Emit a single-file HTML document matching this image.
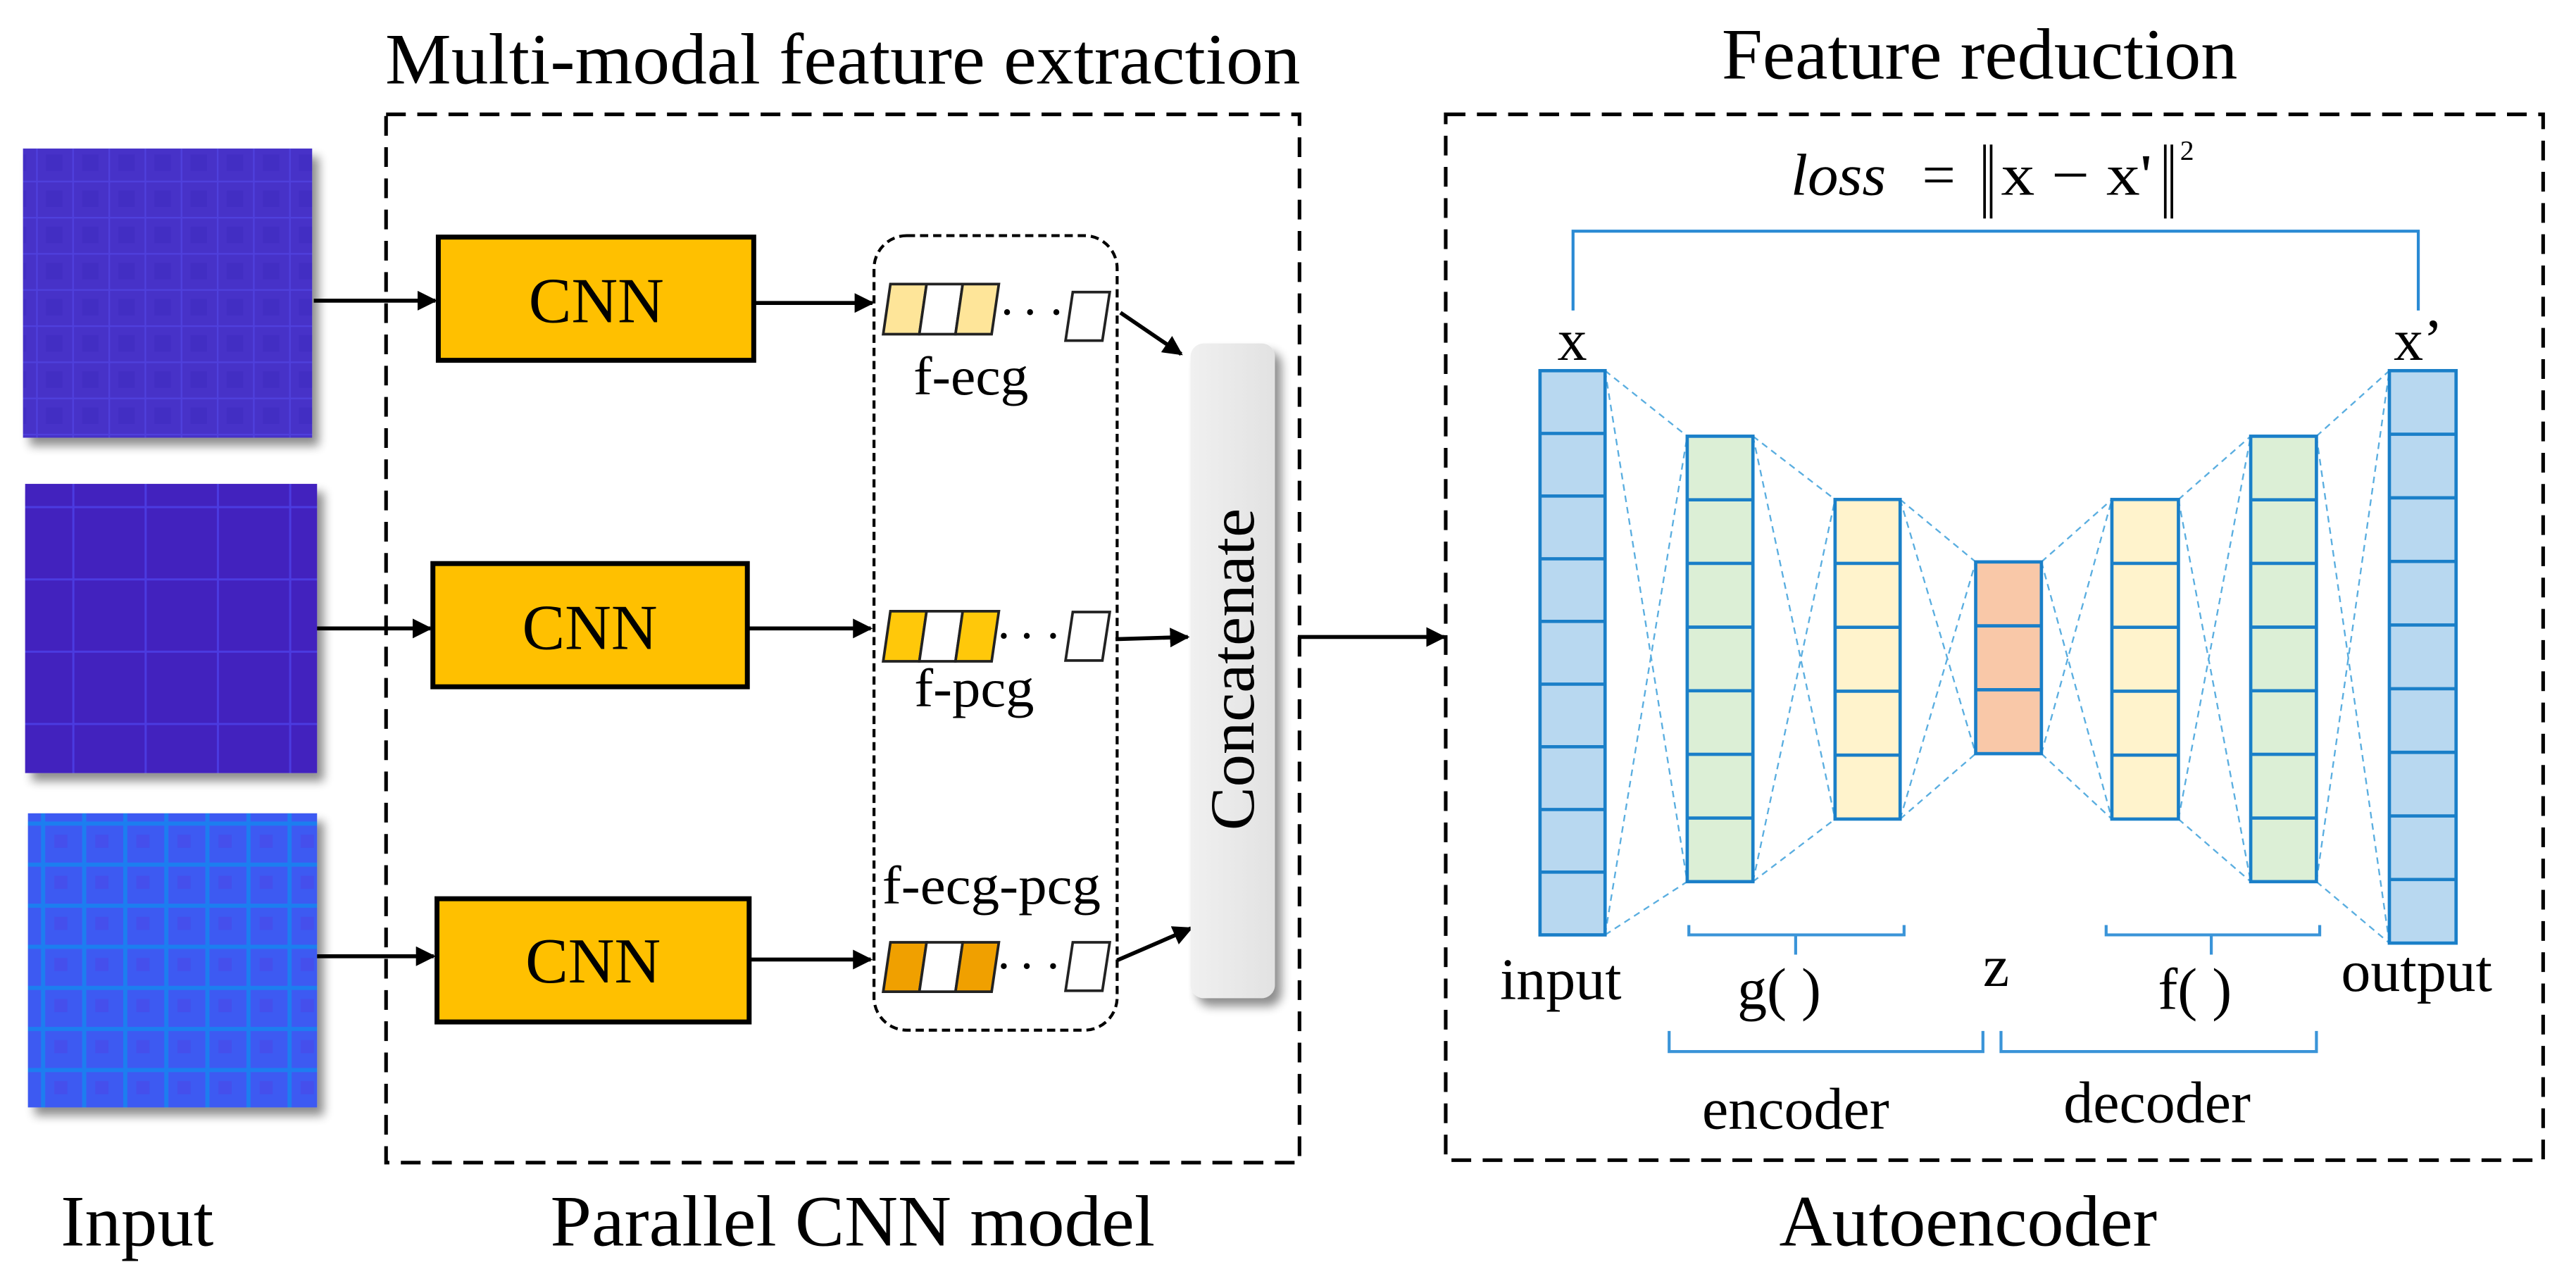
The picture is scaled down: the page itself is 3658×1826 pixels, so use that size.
<!DOCTYPE html>
<html><head><meta charset="utf-8"><style>
html,body{margin:0;padding:0;background:#fff;}
svg{display:block;}
text{font-family:"Liberation Serif",serif;fill:#000;}
</style></head><body>
<svg width="3658" height="1826" viewBox="0 0 1568 782.7" preserveAspectRatio="none" xmlns="http://www.w3.org/2000/svg">
<defs>
<marker id="ah" viewBox="0 0 10 10" refX="9" refY="5" markerWidth="5" markerHeight="5" markerUnits="strokeWidth" orient="auto"><path d="M0,0 L10,5 L0,10 z" fill="#000"/></marker>
<filter id="sh" x="-10%" y="-10%" width="130%" height="130%"><feGaussianBlur in="SourceAlpha" stdDeviation="3"/><feOffset dx="4" dy="5"/><feComponentTransfer><feFuncA type="linear" slope="0.45"/></feComponentTransfer><feMerge><feMergeNode/><feMergeNode in="SourceGraphic"/></feMerge></filter>
<pattern id="p1" width="22" height="22" patternUnits="userSpaceOnUse"><rect width="22" height="22" fill="#4630c8"/><rect x="0" y="0" width="22" height="1" fill="#5040dc"/><rect x="0" y="0" width="1" height="22" fill="#5040dc"/><rect x="6" y="6" width="10" height="10" fill="#3e28bc" opacity="0.4"/></pattern>
<pattern id="p2" width="44" height="44" patternUnits="userSpaceOnUse"><rect width="44" height="44" fill="#4220be"/><rect x="0" y="0" width="44" height="1.3" fill="#4c3ae0"/><rect x="0" y="0" width="1.3" height="44" fill="#4c3ae0"/></pattern>
<pattern id="p3" width="25" height="25" patternUnits="userSpaceOnUse"><rect width="25" height="25" fill="#3c5af2"/><rect x="0" y="0" width="25" height="2.5" fill="#1e7ef0"/><rect x="0" y="0" width="2.5" height="25" fill="#1e7ef0"/><rect x="8" y="8" width="8" height="8" fill="#4a48e8" opacity="0.6"/></pattern>
<linearGradient id="cg" x1="0" x2="1"><stop offset="0" stop-color="#f0f0f0"/><stop offset="1" stop-color="#e2e2e2"/></linearGradient>
</defs>

<text x="513" y="50.7" font-size="44" text-anchor="middle" textLength="557" lengthAdjust="spacingAndGlyphs">Multi-modal feature extraction</text>
<text x="1205" y="47.9" font-size="44" text-anchor="middle" textLength="314" lengthAdjust="spacingAndGlyphs">Feature reduction</text>
<text x="83.5" y="758" font-size="44" text-anchor="middle" textLength="93" lengthAdjust="spacingAndGlyphs">Input</text>
<text x="519" y="758" font-size="44" text-anchor="middle" textLength="368" lengthAdjust="spacingAndGlyphs">Parallel CNN model</text>
<text x="1198" y="758" font-size="44" text-anchor="middle" textLength="230" lengthAdjust="spacingAndGlyphs">Autoencoder</text>

<rect x="235" y="69.6" width="556" height="638" fill="none" stroke="#000" stroke-width="2.2" stroke-dasharray="12,7"/>
<rect x="880" y="69.6" width="668" height="636.5" fill="none" stroke="#000" stroke-width="2.2" stroke-dasharray="12,7"/>

<rect x="14" y="90.4" width="176" height="176" fill="url(#p1)" filter="url(#sh)"/>
<rect x="15.3" y="294.5" width="177.7" height="176" fill="url(#p2)" filter="url(#sh)"/>
<rect x="17" y="495" width="176" height="179" fill="url(#p3)" filter="url(#sh)"/>

<g stroke="#000" stroke-width="3" fill="#ffc000">
<rect x="266.8" y="144.3" width="192" height="75"/>
<rect x="263.5" y="343" width="191.4" height="75"/>
<rect x="266" y="547" width="190" height="75"/>
</g>
<g font-size="39" text-anchor="middle">
<text x="363" y="196">CNN</text>
<text x="359" y="395">CNN</text>
<text x="361" y="598">CNN</text>
</g>

<g stroke="#000" stroke-width="2.4" fill="none" marker-end="url(#ah)">
<line x1="191" y1="183" x2="265" y2="183"/>
<line x1="193" y1="382.5" x2="262" y2="382.5"/>
<line x1="193" y1="582" x2="264" y2="582"/>
<line x1="459" y1="184.4" x2="531" y2="184.4"/>
<line x1="455" y1="382.5" x2="530" y2="382.5"/>
<line x1="456" y1="584" x2="530" y2="584"/>
<line x1="682" y1="190.3" x2="719" y2="215.5"/>
<line x1="679" y1="389" x2="723" y2="387.7"/>
<line x1="680" y1="584.5" x2="725" y2="565"/>
<line x1="790" y1="387.7" x2="879" y2="387.7"/>
</g>

<rect x="532" y="143.4" width="148" height="483.6" rx="20" fill="none" stroke="#000" stroke-width="1.8" stroke-dasharray="5,3"/>

<g stroke="#222" stroke-width="1.6">
<path d="M542,172.9 L564,172.9 L559.6,203.4 L537.6,203.4 Z" fill="#fee599"/>
<path d="M564,172.9 L586,172.9 L581.6,203.4 L559.6,203.4 Z" fill="#fff"/>
<path d="M586,172.9 L608,172.9 L603.6,203.4 L581.6,203.4 Z" fill="#fee599"/>
<path d="M653,177.8 L675.5,177.8 L671,207.3 L648.6,207.3 Z" fill="#fff"/>
<path d="M542,372 L564,372 L559.6,402.5 L537.6,402.5 Z" fill="#ffc80a"/>
<path d="M564,372 L586,372 L581.6,402.5 L559.6,402.5 Z" fill="#fff"/>
<path d="M586,372 L608,372 L603.6,402.5 L581.6,402.5 Z" fill="#ffc80a"/>
<path d="M653,372.5 L675.5,372.5 L671,402 L648.6,402 Z" fill="#fff"/>
<path d="M542,573.5 L564,573.5 L559.6,603.6 L537.6,603.6 Z" fill="#f0a000"/>
<path d="M564,573.5 L586,573.5 L581.6,603.6 L559.6,603.6 Z" fill="#fff"/>
<path d="M586,573.5 L608,573.5 L603.6,603.6 L581.6,603.6 Z" fill="#f0a000"/>
<path d="M653,573.5 L675.5,573.5 L671,603 L648.6,603 Z" fill="#fff"/>
</g>
<g fill="#000">
<circle cx="613" cy="190" r="1.8"/><circle cx="627" cy="190" r="1.8"/><circle cx="643" cy="190" r="1.8"/>
<circle cx="611" cy="387" r="1.8"/><circle cx="625" cy="387" r="1.8"/><circle cx="641" cy="387" r="1.8"/>
<circle cx="611" cy="588" r="1.8"/><circle cx="625" cy="588" r="1.8"/><circle cx="641" cy="588" r="1.8"/>
</g>
<g font-size="33" text-anchor="middle">
<text x="591" y="240" textLength="70" lengthAdjust="spacingAndGlyphs">f-ecg</text>
<text x="593" y="430" textLength="73" lengthAdjust="spacingAndGlyphs">f-pcg</text>
<text x="603.5" y="550" textLength="133" lengthAdjust="spacingAndGlyphs">f-ecg-pcg</text>
</g>

<rect x="724.7" y="209" width="51.3" height="398.5" rx="8" fill="url(#cg)" filter="url(#sh)"/>
<text transform="translate(763,407.4) rotate(-90)" font-size="38" text-anchor="middle" textLength="196" lengthAdjust="spacingAndGlyphs">Concatenate</text>

<text x="1090" y="118.6" font-size="36" font-style="italic" textLength="58" lengthAdjust="spacingAndGlyphs">loss</text>
<text x="1170" y="118.6" font-size="36">=</text>
<g stroke="#000" stroke-width="1.6">
<line x1="1208" y1="88" x2="1208" y2="133"/><line x1="1212" y1="88" x2="1212" y2="133"/>
<line x1="1318" y1="88" x2="1318" y2="133"/><line x1="1322" y1="88" x2="1322" y2="133"/>
</g>
<text x="1218" y="118.6" font-size="36" textLength="92" lengthAdjust="spacingAndGlyphs">x − x'</text>
<text x="1327" y="97" font-size="17">2</text>
<path d="M957.5,189 L957.5,140.7 L1472,140.7 L1472,189" fill="none" stroke="#2a8ad4" stroke-width="1.8"/>
<text x="957" y="219" font-size="36" text-anchor="middle">x</text>
<text x="1472" y="219" font-size="36" text-anchor="middle">x’</text>

<g stroke="#5aaee0" stroke-width="1" stroke-dasharray="4,3" fill="none">
<path d="M977,225.6 L1027,265.5 M977,569 L1027,536.6 M977,225.6 L1027,536.6 M977,569 L1027,265.5"/>
<path d="M1067,265.5 L1117,304 M1067,536.6 L1117,498.5 M1067,265.5 L1117,498.5 M1067,536.6 L1117,304"/>
<path d="M1156.6,304 L1202.6,342 M1156.6,498.5 L1202.6,458.7 M1156.6,304 L1202.6,458.7 M1156.6,498.5 L1202.6,342"/>
<path d="M1242.6,342 L1285.5,304 M1242.6,458.7 L1285.5,498.5 M1242.6,342 L1285.5,498.5 M1242.6,458.7 L1285.5,304"/>
<path d="M1326,304 L1370,265.5 M1326,498.5 L1370,536.6 M1326,304 L1370,536.6 M1326,498.5 L1370,265.5"/>
<path d="M1410,265.5 L1454.4,225.6 M1410,536.6 L1454.4,574 M1410,265.5 L1454.4,574 M1410,536.6 L1454.4,225.6"/>
</g>

<g stroke="#1a7fc8" stroke-width="2">
<rect x="937.4" y="225.6" width="39.6" height="343.4" fill="#b8d8f0"/>
<path d="M937.4,263.8H977M937.4,301.9H977M937.4,340.1H977M937.4,378.2H977M937.4,416.4H977M937.4,454.5H977M937.4,492.7H977M937.4,530.8H977"/>
<rect x="1454.4" y="225.6" width="40.6" height="348.4" fill="#b8d8f0"/>
<path d="M1454.4,264.3H1495M1454.4,303.0H1495M1454.4,341.7H1495M1454.4,380.4H1495M1454.4,419.2H1495M1454.4,457.9H1495M1454.4,496.6H1495M1454.4,535.3H1495"/>
<rect x="1027" y="265.5" width="40" height="271.1" fill="#dcefd6"/>
<path d="M1027,304.2H1067M1027,342.9H1067M1027,381.7H1067M1027,420.4H1067M1027,459.1H1067M1027,497.9H1067"/>
<rect x="1370" y="265.5" width="40" height="271.1" fill="#dcefd6"/>
<path d="M1370,304.2H1410M1370,342.9H1410M1370,381.7H1410M1370,420.4H1410M1370,459.1H1410M1370,497.9H1410"/>
<rect x="1117" y="304" width="39.6" height="194.5" fill="#fff3cc"/>
<path d="M1117,342.9H1156.6M1117,381.8H1156.6M1117,420.7H1156.6M1117,459.6H1156.6"/>
<rect x="1285.5" y="304" width="40.5" height="194.5" fill="#fff3cc"/>
<path d="M1285.5,342.9H1326M1285.5,381.8H1326M1285.5,420.7H1326M1285.5,459.6H1326"/>
<rect x="1202.6" y="342" width="40" height="116.7" fill="#f9c8a8"/>
<path d="M1202.6,380.9H1242.6M1202.6,419.8H1242.6"/>
</g>

<g stroke="#3a94d8" stroke-width="1.8" fill="none">
<path d="M1028,563 L1028,569 L1159,569 L1159,563 M1093,569 L1093,581"/>
<path d="M1282,563 L1282,569 L1412,569 L1412,563 M1346,569 L1346,581"/>
<path d="M1016,627.5 L1016,640 L1207,640 L1207,627.5"/>
<path d="M1218,627.5 L1218,640 L1410,640 L1410,627.5"/>
</g>
<g font-size="36" text-anchor="middle">
<text x="950" y="608">input</text>
<text x="1083" y="614">g( )</text>
<text x="1215" y="600">z</text>
<text x="1336" y="614">f( )</text>
<text x="1471" y="603">output</text>
<text x="1093" y="686.8">encoder</text>
<text x="1313" y="683">decoder</text>
</g>
</svg>
</body></html>
